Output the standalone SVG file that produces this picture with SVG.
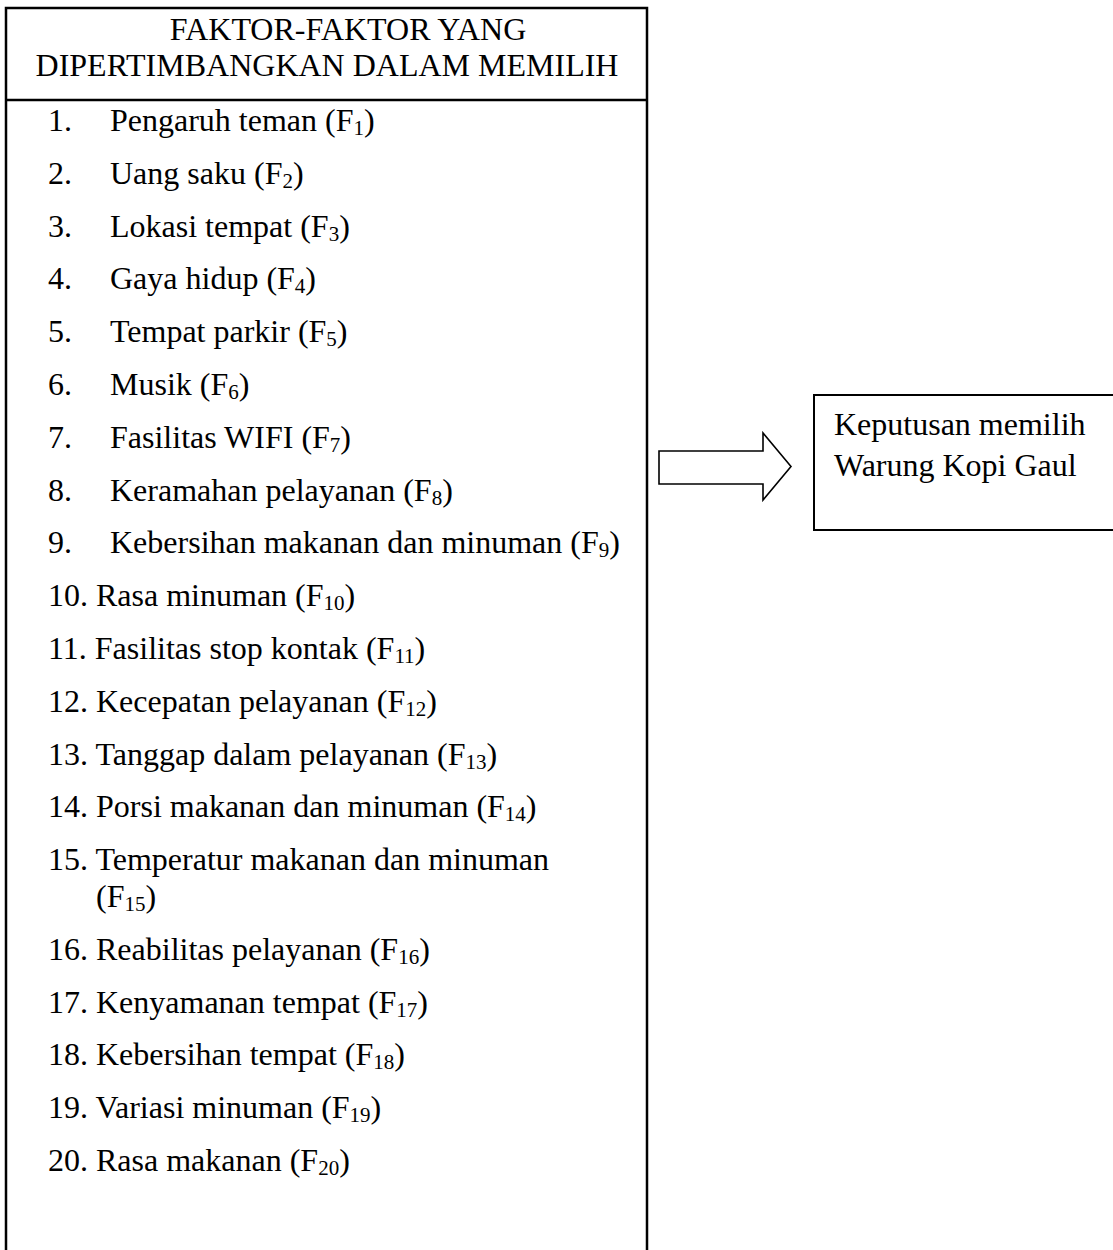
<svg xmlns="http://www.w3.org/2000/svg" width="1113" height="1250" viewBox="0 0 1113 1250">
<style>
  .t{font-family:"Liberation Serif","Times New Roman",serif;font-size:32px;fill:#000}
  .s{font-size:21px}
  .frame{fill:none;stroke:#000;stroke-width:2.5}
  .box{fill:#fff;stroke:#000;stroke-width:2}
  .arrow{fill:#fff;stroke:#000;stroke-width:1.6;stroke-linejoin:miter}
</style>
<rect width="1113" height="1250" fill="#fff"/>
<g id="factors-box">
  <path class="frame" d="M6,1252 V8 H647 V1252"/>
  <line x1="6" y1="100" x2="647" y2="100" stroke="#000" stroke-width="2.5"/>
  <text class="t" x="348" y="39.5" text-anchor="middle">FAKTOR-FAKTOR YANG</text>
  <text class="t" x="327" y="76.3" text-anchor="middle">DIPERTIMBANGKAN DALAM MEMILIH</text>

  <text class="t" x="48" y="131">1.</text><text class="t" x="110" y="131">Pengaruh teman (F<tspan class="s" dy="4">1</tspan><tspan dy="-4">)</tspan></text>
  <text class="t" x="48" y="183.8">2.</text><text class="t" x="110" y="183.8">Uang saku (F<tspan class="s" dy="4">2</tspan><tspan dy="-4">)</tspan></text>
  <text class="t" x="48" y="236.6">3.</text><text class="t" x="110" y="236.6">Lokasi tempat (F<tspan class="s" dy="4">3</tspan><tspan dy="-4">)</tspan></text>
  <text class="t" x="48" y="289.4">4.</text><text class="t" x="110" y="289.4">Gaya hidup (F<tspan class="s" dy="4">4</tspan><tspan dy="-4">)</tspan></text>
  <text class="t" x="48" y="342.2">5.</text><text class="t" x="110" y="342.2">Tempat parkir (F<tspan class="s" dy="4">5</tspan><tspan dy="-4">)</tspan></text>
  <text class="t" x="48" y="395">6.</text><text class="t" x="110" y="395">Musik (F<tspan class="s" dy="4">6</tspan><tspan dy="-4">)</tspan></text>
  <text class="t" x="48" y="447.8">7.</text><text class="t" x="110" y="447.8">Fasilitas WIFI (F<tspan class="s" dy="4">7</tspan><tspan dy="-4">)</tspan></text>
  <text class="t" x="48" y="500.6">8.</text><text class="t" x="110" y="500.6">Keramahan pelayanan (F<tspan class="s" dy="4">8</tspan><tspan dy="-4">)</tspan></text>
  <text class="t" x="48" y="553.4">9.</text><text class="t" x="110" y="553.4">Kebersihan makanan dan minuman (F<tspan class="s" dy="4">9</tspan><tspan dy="-4">)</tspan></text>
  <text class="t" x="48" y="606.2">10. Rasa minuman (F<tspan class="s" dy="4">10</tspan><tspan dy="-4">)</tspan></text>
  <text class="t" x="48" y="659">11. Fasilitas stop kontak (F<tspan class="s" dy="4">11</tspan><tspan dy="-4">)</tspan></text>
  <text class="t" x="48" y="711.8">12. Kecepatan pelayanan (F<tspan class="s" dy="4">12</tspan><tspan dy="-4">)</tspan></text>
  <text class="t" x="48" y="764.6">13. Tanggap dalam pelayanan (F<tspan class="s" dy="4">13</tspan><tspan dy="-4">)</tspan></text>
  <text class="t" x="48" y="817.4">14. Porsi makanan dan minuman (F<tspan class="s" dy="4">14</tspan><tspan dy="-4">)</tspan></text>
  <text class="t" x="48" y="870.2">15. Temperatur makanan dan minuman</text>
  <text class="t" x="96" y="907">(F<tspan class="s" dy="4">15</tspan><tspan dy="-4">)</tspan></text>
  <text class="t" x="48" y="959.8">16. Reabilitas pelayanan (F<tspan class="s" dy="4">16</tspan><tspan dy="-4">)</tspan></text>
  <text class="t" x="48" y="1012.6">17. Kenyamanan tempat (F<tspan class="s" dy="4">17</tspan><tspan dy="-4">)</tspan></text>
  <text class="t" x="48" y="1065.4">18. Kebersihan tempat (F<tspan class="s" dy="4">18</tspan><tspan dy="-4">)</tspan></text>
  <text class="t" x="48" y="1118.2">19. Variasi minuman (F<tspan class="s" dy="4">19</tspan><tspan dy="-4">)</tspan></text>
  <text class="t" x="48" y="1171">20. Rasa makanan (F<tspan class="s" dy="4">20</tspan><tspan dy="-4">)</tspan></text>
</g>
<g id="connectors">
  <polygon class="arrow" points="659,451 763,451 763,433 791,466.5 763,500 763,484 659,484"/>
</g>
<g id="decision-box">
  <rect class="box" x="814" y="395" width="320" height="135"/>
  <text class="t" x="834" y="435">Keputusan memilih</text>
  <text class="t" x="834" y="476">Warung Kopi Gaul</text>
</g>
</svg>
